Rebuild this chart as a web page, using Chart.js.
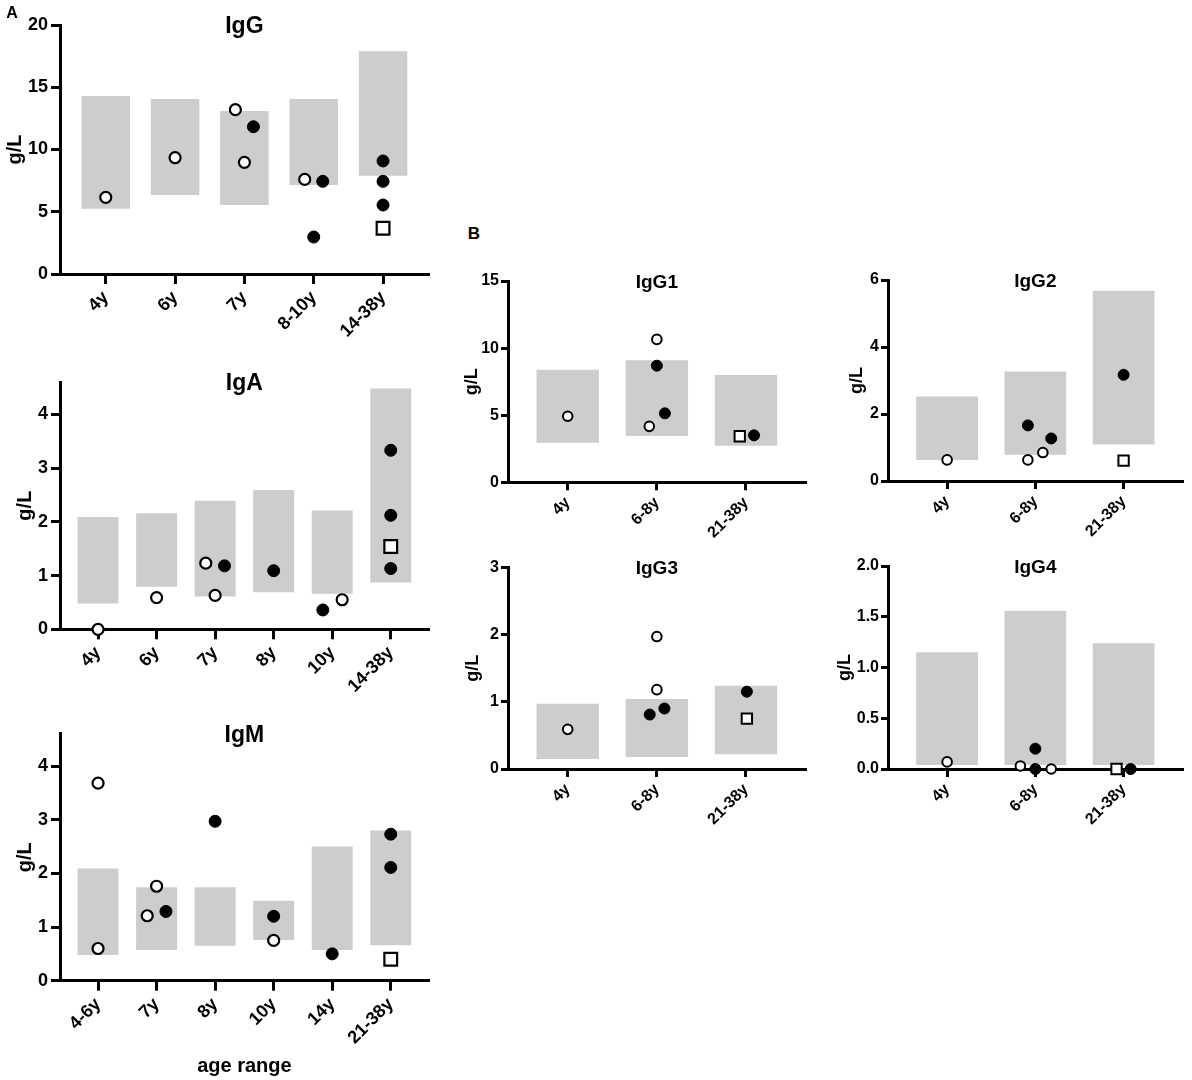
<!DOCTYPE html>
<html><head><meta charset="utf-8">
<script src="https://cdn.jsdelivr.net/npm/chart.js@4.4.1/dist/chart.umd.min.js"></script>
<style>
html,body{margin:0;padding:0;background:#fff;}
body{width:1192px;height:1080px;position:relative;overflow:hidden;font-family:'Liberation Sans',Arial,Helvetica,sans-serif;}
canvas.cv{position:absolute;}
.t{position:absolute;font-weight:bold;transform:translate(-50%,-50%);white-space:nowrap;color:#000;line-height:1;}
</style></head><body>
<script>
// ---------- DATA ----------
// IgG (A)
const iggCats = ['4y','6y','7y','8-10y','14-38y'];
const iggLow  = [5.25, 6.35, 5.55, 7.15, 7.9];
const iggHigh = [14.3, 14.05, 13.1, 14.05, 17.9];
const iggTicks = [0,5,10,15,20];
const iggOpenCat = ['4y','6y','7y','7y','8-10y'];
const iggOpenVal = [6.16, 9.34, 13.2, 8.97, 7.6];
const iggFillCat = ['7y','8-10y','8-10y','14-38y','14-38y','14-38y'];
const iggFillVal = [11.83, 7.44, 2.97, 9.08, 7.44, 5.54];
const iggSqCat = ['14-38y'];
const iggSqVal = [3.67];

// IgA (A)
const igaCats = ['4y','6y','7y','8y','10y','14-38y'];
const igaLow  = [0.48, 0.79, 0.61, 0.69, 0.66, 0.87];
const igaHigh = [2.09, 2.16, 2.39, 2.59, 2.21, 4.48];
const igaTicks = [0,1,2,3,4];
const igaOpenCat = ['4y','6y','7y','7y','10y'];
const igaOpenVal = [0.0, 0.59, 1.23, 0.63, 0.55];
const igaFillCat = ['7y','8y','10y','14-38y','14-38y','14-38y'];
const igaFillVal = [1.18, 1.09, 0.36, 3.33, 2.12, 1.13];
const igaSqCat = ['14-38y'];
const igaSqVal = [1.54];

// IgM (A)
const igmCats = ['4-6y','7y','8y','10y','14y','21-38y'];
const igmLow  = [0.48, 0.57, 0.65, 0.76, 0.57, 0.66];
const igmHigh = [2.09, 1.74, 1.74, 1.49, 2.5, 2.8];
const igmTicks = [0,1,2,3,4];
const igmOpenCat = ['4-6y','4-6y','7y','7y','10y'];
const igmOpenVal = [3.68, 0.60, 1.76, 1.21, 0.75];
const igmFillCat = ['7y','8y','10y','14y','21-38y','21-38y'];
const igmFillVal = [1.29, 2.97, 1.20, 0.50, 2.73, 2.11];
const igmSqCat = ['21-38y'];
const igmSqVal = [0.40];

// IgG subclasses (B)
const subCats = ['4y','6-8y','21-38y'];

const igg1Low  = [2.95, 3.45, 2.73];
const igg1High = [8.39, 9.09, 8.0];
const igg1Ticks = [0,5,10,15];
const igg1OpenCat = ['4y','6-8y','6-8y'];
const igg1OpenVal = [4.92, 10.65, 4.17];
const igg1FillCat = ['6-8y','6-8y','21-38y'];
const igg1FillVal = [8.69, 5.14, 3.5];
const igg1SqCat = ['21-38y'];
const igg1SqVal = [3.43];

const igg2Low  = [0.63, 0.78, 1.09];
const igg2High = [2.52, 3.27, 5.68];
const igg2Ticks = [0,2,4,6];
const igg2OpenCat = ['4y','6-8y','6-8y'];
const igg2OpenVal = [0.63, 0.85, 0.63];
const igg2FillCat = ['6-8y','6-8y','21-38y'];
const igg2FillVal = [1.66, 1.27, 3.17];
const igg2SqCat = ['21-38y'];
const igg2SqVal = [0.61];

const igg3Low  = [0.15, 0.18, 0.22];
const igg3High = [0.97, 1.04, 1.24];
const igg3Ticks = [0,1,2,3];
const igg3OpenCat = ['4y','6-8y','6-8y'];
const igg3OpenVal = [0.59, 1.97, 1.18];
const igg3FillCat = ['6-8y','6-8y','21-38y'];
const igg3FillVal = [0.90, 0.81, 1.15];
const igg3SqCat = ['21-38y'];
const igg3SqVal = [0.75];

const igg4Low  = [0.04, 0.04, 0.04];
const igg4High = [1.15, 1.56, 1.24];
const igg4Ticks = [0,0.5,1.0,1.5,2.0];
const igg4OpenCat = ['4y','6-8y','6-8y'];
const igg4OpenVal = [0.07, 0.03, 0.0];
const igg4FillCat = ['6-8y','6-8y','21-38y'];
const igg4FillVal = [0.20, 0.0, 0.0];
const igg4SqCat = ['21-38y'];
const igg4SqVal = [0.0];

// ---------- LAYOUT (jitter of overlapping points, panel boxes) ----------
const jit = {
  igg:  {open:[0,0,-0.13,0,-0.13], fill:[0.13,0.13,0,0,0,0], sq:[0]},
  iga:  {open:[0,0,-0.16,0,0.17], fill:[0.16,0,-0.16,0,0,0], sq:[0]},
  igm:  {open:[0,0,0,-0.16,0], fill:[0.16,0,0,0,0,0], sq:[0]},
  igg1: {open:[0,0,-0.085], fill:[0,0.09,0.09], sq:[-0.07]},
  igg2: {open:[0,0.085,-0.085], fill:[-0.085,0.18,0], sq:[0]},
  igg3: {open:[0,0,0], fill:[0.085,-0.08,0.01], sq:[0.01]},
  igg4: {open:[0,-0.17,0.18], fill:[0,0,0.08], sq:[-0.08]}
};

const FONT = "'Liberation Sans', Arial, Helvetica, sans-serif";

function label(text, x, y, size) {
  const d = document.createElement('div');
  d.className = 't';
  d.textContent = text;
  d.style.left = x + 'px';
  d.style.top = y + 'px';
  d.style.fontSize = size + 'px';
  document.body.appendChild(d);
}

function panel(p) {
  const cv = document.createElement('canvas');
  cv.className = 'cv';
  cv.width = p.box[2]; cv.height = p.box[3];
  cv.style.left = p.box[0] + 'px'; cv.style.top = p.box[1] + 'px';
  cv.style.width = p.box[2] + 'px'; cv.style.height = p.box[3] + 'px';
  document.body.appendChild(cv);
  const n = p.cats.length;
  const pts = (cats, vals, dx) => cats.map((c, i) => ({x: p.cats.indexOf(c) + dx[i], y: vals[i]}));
  const s = p.style;
  const chart = new Chart(cv, {
    type: 'bar',
    data: {
      datasets: [
        {type: 'scatter', data: pts(p.sqCat, p.sqVal, p.jit.sq), pointStyle: 'rect',
         pointRadius: s.sqR, pointBackgroundColor: '#fff', pointBorderColor: '#000',
         pointBorderWidth: s.bw, order: 0, clip: false},
        {type: 'scatter', data: pts(p.fillCat, p.fillVal, p.jit.fill), pointStyle: 'circle',
         pointRadius: s.fillR, pointBackgroundColor: '#000', pointBorderColor: '#000',
         pointBorderWidth: 1, order: 1, clip: false},
        {type: 'scatter', data: pts(p.openCat, p.openVal, p.jit.open), pointStyle: 'circle',
         pointRadius: s.openR, pointBackgroundColor: '#fff', pointBorderColor: '#000',
         pointBorderWidth: s.bw, order: 2, clip: false},
        {type: 'bar', data: p.cats.map((c, i) => ({x: i, y: [p.low[i], p.high[i]]})),
         backgroundColor: '#cdcdcd', borderWidth: 0, barPercentage: 0.7,
         categoryPercentage: 1.0, order: 10}
      ]
    },
    options: {
      responsive: false, animation: false, devicePixelRatio: 1,
      layout: {padding: {top: p.padTop, right: p.padRight, left: 0, bottom: 0}},
      plugins: {legend: {display: false}, tooltip: {enabled: false}},
      scales: {
        x: {
          type: 'linear', min: -p.xEdge, max: n - 1 + p.xEdge, offset: false,
          afterBuildTicks: sc => { sc.ticks = p.cats.map((c, i) => ({value: i})); },
          afterFit: sc => { sc.height = p.xh; },
          grid: {offset: false, drawOnChartArea: false, drawTicks: true, tickLength: s.xTick, lineWidth: s.axisW, color: '#000'},
          border: {display: true, color: '#000', width: s.axisW},
          ticks: {autoSkip: false, minRotation: 45, maxRotation: 45, padding: s.xPad, color: '#000',
                  font: {family: FONT, size: s.tickFont, weight: 'bold'},
                  callback: v => p.cats[v]},
          title: p.xTitle ? {display: true, text: p.xTitle, color: '#000',
                  font: {family: FONT, size: 20, weight: 'bold'}, padding: {top: 0, bottom: 2}} : {display: false}
        },
        y: {
          type: 'linear', min: 0, max: p.ymax,
          afterBuildTicks: sc => { sc.ticks = p.yticks.map(v => ({value: v})); },
          afterFit: sc => { sc.width = p.yw; },
          grid: {drawOnChartArea: false, drawTicks: true, tickLength: s.yTick, lineWidth: s.axisW, color: '#000'},
          border: {display: true, color: '#000', width: s.axisW},
          ticks: {padding: s.yPad, color: '#000', font: {family: FONT, size: s.tickFont, weight: 'bold'},
                  callback: v => p.dec ? v.toFixed(p.dec) : String(v)},
          title: {display: true, text: 'g/L', color: '#000', font: {family: FONT, size: s.axFont, weight: 'bold'},
                  padding: {top: p.gTop, bottom: 0}}
        }
      }
    }
  });
  const ca = chart.chartArea;
  label(p.title, p.box[0] + (ca.left + ca.right) / 2, p.box[1] + ca.top, s.titleFont);
  return chart;
}

const styleA = {tickFont: 18, axFont: 20, titleFont: 23, axisW: 3, xTick: 10, yTick: 9, xPad: 3, yPad: 3,
                openR: 5.5, fillR: 6, sqR: 9, bw: 2.2};
const styleB = {tickFont: 16, axFont: 18, titleFont: 19, axisW: 3, xTick: 8, yTick: 7, xPad: 3, yPad: 2,
                openR: 4.8, fillR: 5.5, sqR: 7.3, bw: 2};

panel({title: 'IgG', box: [0, 0, 440, 340], padTop: 25, padRight: 8, xh: 66, yw: 60, xEdge: 0.66,
  cats: iggCats, low: iggLow, high: iggHigh, ymax: 20, yticks: iggTicks, gTop: 3, style: styleA,
  openCat: iggOpenCat, openVal: iggOpenVal, fillCat: iggFillCat, fillVal: iggFillVal,
  sqCat: iggSqCat, sqVal: iggSqVal, jit: jit.igg});

panel({title: 'IgA', box: [0, 350, 440, 350], padTop: 32, padRight: 8, xh: 70.7, yw: 60, xEdge: 0.65,
  cats: igaCats, low: igaLow, high: igaHigh, ymax: 4.6, yticks: igaTicks, gTop: 13, style: styleA,
  openCat: igaOpenCat, openVal: igaOpenVal, fillCat: igaFillCat, fillVal: igaFillVal,
  sqCat: igaSqCat, sqVal: igaSqVal, jit: jit.iga});

panel({title: 'IgM', box: [0, 710, 440, 370], padTop: 23.8, padRight: 8, xh: 99.3, yw: 60, xEdge: 0.65,
  cats: igmCats, low: igmLow, high: igmHigh, ymax: 4.6, yticks: igmTicks, gTop: 13, style: styleA,
  xTitle: 'age range',
  openCat: igmOpenCat, openVal: igmOpenVal, fillCat: igmFillCat, fillVal: igmFillVal,
  sqCat: igmSqCat, sqVal: igmSqVal, jit: jit.igm});

panel({title: 'IgG1', box: [450, 250, 365, 300], padTop: 31, padRight: 6, xh: 67.7, yw: 58, xEdge: 0.67,
  cats: subCats, low: igg1Low, high: igg1High, ymax: 15, yticks: igg1Ticks, gTop: 11, style: styleB,
  openCat: igg1OpenCat, openVal: igg1OpenVal, fillCat: igg1FillCat, fillVal: igg1FillVal,
  sqCat: igg1SqCat, sqVal: igg1SqVal, jit: jit.igg1});

panel({title: 'IgG2', box: [830, 250, 362, 300], padTop: 30, padRight: 3, xh: 69, yw: 58, xEdge: 0.67,
  cats: subCats, low: igg2Low, high: igg2High, ymax: 6, yticks: igg2Ticks, gTop: 16, style: styleB,
  openCat: igg2OpenCat, openVal: igg2OpenVal, fillCat: igg2FillCat, fillVal: igg2FillVal,
  sqCat: igg2SqCat, sqVal: igg2SqVal, jit: jit.igg2});

panel({title: 'IgG3', box: [450, 540, 365, 290], padTop: 27.3, padRight: 6, xh: 61, yw: 58, xEdge: 0.67,
  cats: subCats, low: igg3Low, high: igg3High, ymax: 3, yticks: igg3Ticks, gTop: 12, style: styleB,
  openCat: igg3OpenCat, openVal: igg3OpenVal, fillCat: igg3FillCat, fillVal: igg3FillVal,
  sqCat: igg3SqCat, sqVal: igg3SqVal, jit: jit.igg3});

panel({title: 'IgG4', box: [830, 540, 362, 290], padTop: 26, padRight: 3, xh: 61, yw: 58, xEdge: 0.67,
  cats: subCats, low: igg4Low, high: igg4High, ymax: 2, yticks: igg4Ticks, gTop: 4, dec: 1, style: styleB,
  openCat: igg4OpenCat, openVal: igg4OpenVal, fillCat: igg4FillCat, fillVal: igg4FillVal,
  sqCat: igg4SqCat, sqVal: igg4SqVal, jit: jit.igg4});

label('A', 12, 13, 16);
label('B', 474, 233, 17);
</script>
</body></html>
